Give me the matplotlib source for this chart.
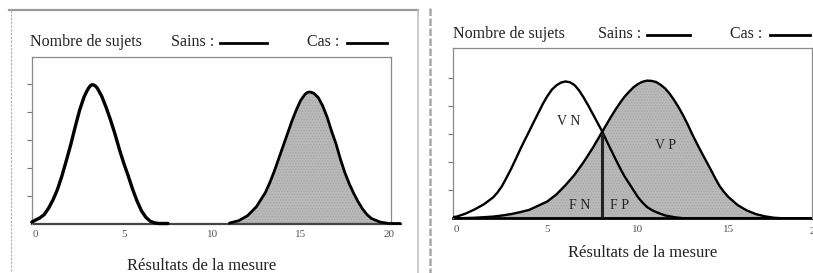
"""
Deux panneaux : distributions des sujets sains et des cas selon le resultat
de la mesure (separation parfaite a gauche, chevauchement a droite).
Output: out.png (813x273)
"""
import numpy as np
import matplotlib
matplotlib.use("Agg")
import matplotlib.pyplot as plt
from matplotlib.lines import Line2D

# ── Data ─────────────────────────────────────────────────────────────────────

# left panel : well separated groups
L_SAINS_X = [-0.2, 0.0, 0.25, 0.5, 0.75, 1.0, 1.25, 1.5, 1.75, 2.0, 2.25, 2.5,
             2.75, 2.9, 3.0, 3.1, 3.2, 3.3, 3.4, 3.5, 3.75, 4.0, 4.25, 4.5, 4.75,
             5.0, 5.25, 5.5, 5.75, 6.0, 6.25, 6.5, 6.75, 7.0, 7.5]
L_SAINS_Y = [0.05, 0.12, 0.2, 0.32, 0.55, 0.85, 1.22, 1.7, 2.25, 2.82, 3.45, 4.05,
             4.52, 4.72, 4.83, 4.92, 4.96, 4.95, 4.91, 4.84, 4.55, 4.15, 3.7, 3.2,
             2.65, 2.15, 1.7, 1.22, 0.8, 0.45, 0.22, 0.08, 0.02, 0.0, 0.0]

L_CAS_X = [11.0, 11.5, 12.0, 12.5, 13.0, 13.25, 13.5, 13.75, 14.0, 14.25, 14.5,
           14.75, 15.0, 15.25, 15.4, 15.5, 15.6, 15.75, 16.0, 16.25, 16.5, 16.75,
           17.0, 17.25, 17.5, 17.75, 18.0, 18.25, 18.5, 18.75, 19.0, 19.5, 20.0,
           20.6]
L_CAS_Y = [0.02, 0.1, 0.28, 0.6, 1.1, 1.45, 1.85, 2.3, 2.75, 3.2, 3.65,
           4.05, 4.4, 4.62, 4.69, 4.7, 4.69, 4.65, 4.5, 4.2, 3.8, 3.3,
           2.85, 2.3, 1.82, 1.42, 1.08, 0.78, 0.52, 0.32, 0.18, 0.05, 0.0,
           0.0]

# right panel : overlapping groups
R_SAINS_X = [-0.2, 0.0, 0.5, 1.0, 1.5, 2.0, 2.25, 2.5, 2.75, 3.0, 3.25, 3.5,
             3.75, 4.0, 4.25, 4.5, 4.75, 5.0, 5.25, 5.5, 5.75, 6.0, 6.25, 6.5,
             6.75, 7.0, 7.25, 7.5, 7.75, 8.0, 8.25, 8.5, 8.75, 9.0, 9.25, 9.5,
             9.75, 10.0, 10.25, 10.5, 10.75, 11.0, 11.5, 12.0, 12.5, 19.6]
R_SAINS_Y = [0.04, 0.06, 0.17, 0.32, 0.5, 0.74, 0.92, 1.15, 1.45, 1.76, 2.1, 2.45,
             2.78, 3.1, 3.43, 3.75, 4.07, 4.35, 4.58, 4.73, 4.83, 4.87, 4.84, 4.74,
             4.55, 4.3, 4.02, 3.72, 3.42, 3.12, 2.78, 2.45, 2.12, 1.8, 1.5, 1.25,
             1.0, 0.75, 0.56, 0.4, 0.3, 0.22, 0.1, 0.04, 0.0, 0.0]

R_CAS_X = [-0.2, 0.0, 1.0, 2.0, 2.5, 3.0, 3.5, 4.0, 4.5, 5.0, 5.5, 6.0, 6.5, 7.0,
           7.5, 8.0, 8.5, 8.75, 9.0, 9.25, 9.5, 9.75, 10.0, 10.25, 10.5, 10.75,
           11.0, 11.25, 11.5, 11.75, 12.0, 12.25, 12.5, 12.75, 13.0, 13.25, 13.5,
           13.75, 14.0, 14.25, 14.5, 14.75, 15.0, 15.5, 16.0, 16.5, 17.0, 17.5,
           18.0, 19.6]
R_CAS_Y = [0.0, 0.0, 0.02, 0.06, 0.1, 0.15, 0.22, 0.3, 0.45, 0.6, 0.85, 1.18,
           1.55, 2.0, 2.5, 3.05, 3.6, 3.86, 4.1, 4.32, 4.5, 4.66, 4.78, 4.86,
           4.9, 4.89, 4.85, 4.75, 4.62, 4.43, 4.2, 3.94, 3.65, 3.33, 2.98, 2.66,
           2.35, 2.05, 1.75, 1.44, 1.15, 0.93, 0.75, 0.47, 0.28, 0.15, 0.07,
           0.02, 0.0, 0.0]

CUTOFF = 8.0                      # seuil de decision (panneau droit)

ZONE_LABELS = ["V N", "V P", "F N", "F P"]
ZONE_X      = [6.15, 11.5, 6.8, 9.0]
ZONE_Y      = [3.45, 2.6, 0.45, 0.45]

X_TICKS  = [0, 5, 10, 15, 20]
Y_TICKS  = [1, 2, 3, 4, 5]
TITLE    = "Nombre de sujets"
XLABEL   = "Résultats de la mesure"
LEG_SAIN = "Sains :"
LEG_CAS  = "Cas :"

# ── Style ────────────────────────────────────────────────────────────────────

W, H = 813, 273
FILL  = "#b9b9b9"
SERIF = ["Liberation Serif", "DejaVu Serif"]
plt.rcParams["font.family"] = SERIF
plt.rcParams["hatch.linewidth"] = 0.6
HEAD_FS = 11.5
TICK_FS = 8


def fx(px):
    return px / W


def fy(py):
    return 1 - py / H


fig = plt.figure(figsize=(W / 100, H / 100), dpi=100)
fig.patch.set_facecolor("white")

# axes boxes (pixel positions)
axL = fig.add_axes([fx(31.5), fy(223.5), fx(391 - 31.5), (223.5 - 57.3) / H])
axR = fig.add_axes([fx(453.3), fy(218.3), fx(812 - 453.3), (218.3 - 48.3) / H])

axL.set_xlim(-0.22, 20.11)
axL.set_ylim(0, 5.94)
axR.set_xlim(-0.19, 19.6)
axR.set_ylim(0, 6.05)

for ax in (axL, axR):
    ax.set_facecolor("white")
    for side in ("top", "left", "right"):
        ax.spines[side].set_color("#8a8a8a")
        ax.spines[side].set_linewidth(0.9)
    ax.spines["bottom"].set_visible(False)
    ax.set_yticks(Y_TICKS)
    ax.set_yticklabels([])
    ax.tick_params(axis="y", direction="out", length=3.5, width=0.8, color="#777777")
    ax.set_xticks([t for t in X_TICKS if t <= ax.get_xlim()[1]])
    ax.tick_params(axis="x", length=0, pad=5, labelsize=TICK_FS, labelcolor="#555555")

# faint 4th tick on the left panel
axL.yaxis.get_major_ticks()[3].tick1line.set_color("#cccccc")

# ── Left panel ───────────────────────────────────────────────────────────────

axL.plot([-0.22, 20.65], [0, 0], color="#444444", lw=1.6, clip_on=False, zorder=2)
axL.fill_between(L_CAS_X, L_CAS_Y, color=FILL, edgecolor="#a6a6a6",
                 hatch="......", lw=0, zorder=1)
axL.plot(L_SAINS_X, L_SAINS_Y, color="black", lw=2.4, clip_on=False,
         solid_capstyle="round", solid_joinstyle="round", zorder=3)
axL.plot(L_CAS_X, L_CAS_Y, color="black", lw=2.0, clip_on=False,
         solid_joinstyle="round", zorder=3)

# ── Right panel ──────────────────────────────────────────────────────────────

axR.fill_between(R_CAS_X, R_CAS_Y, color=FILL, edgecolor="#a6a6a6",
                 hatch="......", lw=0, zorder=1)
axR.plot([-0.19, 19.6], [0, 0], color="black", lw=2.0, clip_on=False, zorder=2)
axR.plot(R_SAINS_X, R_SAINS_Y, color="black", lw=1.7, solid_joinstyle="round", zorder=3)
axR.plot(R_CAS_X, R_CAS_Y, color="black", lw=1.7, solid_joinstyle="round", zorder=3)
cut_h = min(np.interp(CUTOFF, R_SAINS_X, R_SAINS_Y), np.interp(CUTOFF, R_CAS_X, R_CAS_Y))
axR.vlines(CUTOFF, 0, cut_h, color="#222222", lw=2.2, zorder=4)

for lab, x, y in zip(ZONE_LABELS, ZONE_X, ZONE_Y):
    axR.text(x, y, lab, ha="center", va="center", fontsize=10, color="#222222")

# "20" label cut by the right edge of the picture (as in the scan)
axR.text(19.75, -0.47, "20", transform=axR.transData, ha="center", va="center",
         fontsize=TICK_FS, color="#555555", clip_on=False)

# ── Titles, legends, x labels ────────────────────────────────────────────────

def header(x0, y0, sain_x, sain_line, cas_x, cas_line):
    kw = dict(ha="left", va="center", fontsize=HEAD_FS, color="#222222")
    fig.text(fx(x0), fy(y0), TITLE, **kw)
    fig.text(fx(sain_x), fy(y0), LEG_SAIN, **kw)
    fig.text(fx(cas_x), fy(y0), LEG_CAS, **kw)
    for xa, xb in (sain_line, cas_line):
        fig.add_artist(Line2D([fx(xa), fx(xb)], [fy(y0 + 1), fy(y0 + 1)],
                              color="black", lw=2.0, transform=fig.transFigure))


header(30, 42, 171, (220, 267), 307, (347, 387))
header(453, 34, 598, (647, 690), 730, (770, 810))

fig.text(fx(202), fy(266), XLABEL, ha="center", va="center", fontsize=12, color="#222222")
fig.text(fx(643), fy(253), XLABEL, ha="center", va="center", fontsize=12, color="#222222")

# ── Frame lines of the scanned page ──────────────────────────────────────────

fig.add_artist(Line2D([fx(9), fx(418)], [fy(10), fy(10)], color="#9a9a9a", lw=1.6))
fig.add_artist(Line2D([fx(11), fx(11)], [fy(10), fy(273)], color="#b5b5b5", lw=0.9,
                      linestyle=(0, (2, 1))))
fig.add_artist(Line2D([fx(418), fx(418)], [fy(10), fy(273)], color="#bdbdbd", lw=1.1))
fig.add_artist(Line2D([fx(429.5), fx(429.5)], [fy(8), fy(273)], color="#a8a8a8", lw=1.8,
                      linestyle=(0, (3, 1))))

fig.savefig("out.png", dpi=100, facecolor="white")
